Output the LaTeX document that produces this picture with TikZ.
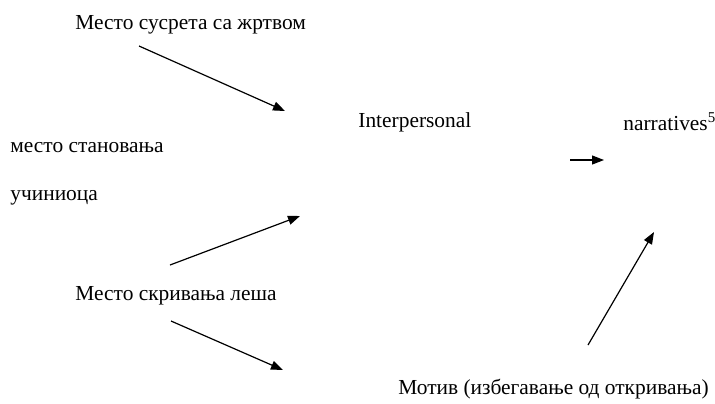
\documentclass[tikz,border=0pt]{standalone}
\usepackage{fontspec}
\setmainfont{Liberation Serif}
\usetikzlibrary{arrows.meta}

\begin{document}
\begin{tikzpicture}[x=0.5pt, y=-0.5pt,
label_style/.style={anchor=west, inner sep=0pt, font=\fontsize{10.7}{12}\selectfont},
arrow_style/.style={line width=0.6pt, -{Triangle[length=6pt, width=4.5pt]}},
		]

	\useasboundingbox (0,0) rectangle (715,403);

	% labels
	\node[label_style] at (75,25) (susret) {Место сусрета са жртвом};
	\node[label_style] at (10,148) (stanovanje) {место становања};
	\node[label_style] at (10,198) (ucinilac) {учиниоца};
	\node[label_style] at (75,296) (skrivanje) {Место скривања леша};
	\node[label_style] at (358,122) (interpersonal) {Interpersonal};
	\node[label_style] at (623,122) (narratives) {narratives\textsuperscript{5}};
	\node[label_style] at (398,389) (motiv) {Мотив (избегавање од откривања)};

	% arrow ends
	\coordinate (a1) at (139,46);   \coordinate (b1) at (285,111);
	\coordinate (a2) at (170,265);  \coordinate (b2) at (300,216);
	\coordinate (a3) at (171,321);  \coordinate (b3) at (283,370);
	\coordinate (a4) at (588,345);  \coordinate (b4) at (654,232);
	\coordinate (a5) at (570,160);  \coordinate (b5) at (604,160);

	\foreach \i in {1,...,5}{
		\draw[arrow_style] (a\i) -- (b\i);
		}

\end{tikzpicture}
\end{document}
